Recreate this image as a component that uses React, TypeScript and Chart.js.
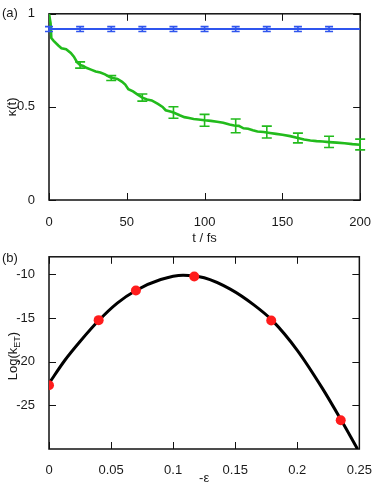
import React, { useEffect, useRef } from 'react';
import { Chart, registerables } from 'chart.js';

Chart.register(...registerables);

const FONT = "'Liberation Sans', Arial, Helvetica, sans-serif";
const TEXT = '#1a1a1a';
const GREEN = '#22bb1c';
const BLUE = '#2f55ee';
const RED = '#ff1c1c';

// ---------- Panel (a) ----------
const timeFs = [0, 0.5, 1, 1.5, 3, 6, 8, 11, 14, 16, 18, 20, 22, 24, 27, 30, 33, 36, 39, 41, 44, 47, 49, 51, 54, 57, 60, 63, 66, 70, 73, 75, 78, 80, 84, 87, 90, 93, 96, 100, 104, 108, 112, 116, 119, 122, 125, 128, 131, 134, 138, 142, 146, 150, 155, 160, 164, 168, 172, 176, 180, 185, 190, 195, 200];
const kappaGreen = [1.0, 1.0, 0.95, 0.87, 0.855, 0.83, 0.815, 0.81, 0.79, 0.77, 0.74, 0.725, 0.72, 0.71, 0.70, 0.69, 0.685, 0.675, 0.66, 0.655, 0.65, 0.635, 0.62, 0.595, 0.583, 0.566, 0.55, 0.54, 0.535, 0.516, 0.50, 0.482, 0.475, 0.47, 0.455, 0.445, 0.44, 0.435, 0.432, 0.428, 0.425, 0.42, 0.415, 0.405, 0.40, 0.398, 0.385, 0.383, 0.375, 0.368, 0.365, 0.36, 0.355, 0.35, 0.343, 0.333, 0.325, 0.32, 0.316, 0.314, 0.311, 0.308, 0.305, 0.30, 0.297];
const blueTime = [0, 200];
const kappaBlue = [0.918, 0.918];
const greenErrTime = [20, 40, 60, 80, 100, 120, 140, 160, 180, 200];
const greenErrMean = [0.725, 0.655, 0.55, 0.47, 0.428, 0.398, 0.365, 0.333, 0.312, 0.298];
const greenErrHalf = [0.017, 0.013, 0.019, 0.031, 0.032, 0.037, 0.032, 0.026, 0.03, 0.029];
const blueErrTime = [0, 20, 40, 60, 80, 100, 120, 140, 160, 180];
const blueErrMean = [0.918, 0.918, 0.918, 0.918, 0.918, 0.918, 0.918, 0.918, 0.918, 0.918];
const blueErrHalf = [0.013, 0.013, 0.013, 0.013, 0.013, 0.013, 0.013, 0.013, 0.013, 0.013];
const timeTicks = [0, 50, 100, 150, 200];
const kappaTicks = [0, 0.5, 1];

// ---------- Panel (b) ----------
const epsCurve = [0, 0.0125, 0.025, 0.04, 0.055, 0.07, 0.09, 0.108, 0.125, 0.146, 0.165, 0.18, 0.2, 0.22, 0.235, 0.2485];
const logkCurve = [-22.5, -19.9, -17.7, -15.3, -13.3, -11.85, -10.6, -10.1, -10.4, -11.7, -13.5, -15.3, -18.7, -23.0, -26.6, -30.0];
const epsPoints = [0, 0.04, 0.07, 0.117, 0.179, 0.235];
const logkPoints = [-22.7, -15.25, -11.85, -10.25, -15.3, -26.7];
const epsTicks = [0, 0.05, 0.1, 0.15, 0.2, 0.25];
const logkTicks = [-25, -20, -15, -10];

const zip = (xs: number[], ys: number[]) => xs.map((x, i) => ({ x, y: ys[i] }));
const plainLabel = (v: any) => String(Math.round(Number(v) * 1000) / 1000);

const frameTicks = {
  id: 'frameTicks',
  beforeDatasetsDraw(chart: any) {
    const { ctx, chartArea: a, scales } = chart;
    const x = scales.x;
    const y = scales.y;
    ctx.save();
    ctx.strokeStyle = '#111';
    ctx.lineWidth = 1;
    ctx.beginPath();
    x.ticks.forEach((t: any) => {
      const p = Math.round(x.getPixelForValue(t.value)) + 0.5;
      ctx.moveTo(p, a.bottom);
      ctx.lineTo(p, a.bottom - 7);
      ctx.moveTo(p, a.top);
      ctx.lineTo(p, a.top + 7);
    });
    y.ticks.forEach((t: any) => {
      const p = Math.round(y.getPixelForValue(t.value)) + 0.5;
      ctx.moveTo(a.left, p);
      ctx.lineTo(a.left + 7, p);
      ctx.moveTo(a.right, p);
      ctx.lineTo(a.right - 7, p);
    });
    ctx.stroke();
    ctx.lineWidth = 1.5;
    ctx.strokeRect(a.left, a.top, a.right - a.left, a.bottom - a.top);
    ctx.restore();
  },
};

function makeErrorBars(sets: any[]) {
  return {
    id: 'errorBars',
    afterDatasetsDraw(chart: any) {
      const { ctx, scales } = chart;
      const x = scales.x;
      const y = scales.y;
      ctx.save();
      sets.forEach((s) => {
        ctx.strokeStyle = s.color;
        ctx.lineWidth = s.width;
        s.xs.forEach((xv: number, i: number) => {
          const px = x.getPixelForValue(xv);
          const top = y.getPixelForValue(s.ys[i] + s.errs[i]);
          const bot = y.getPixelForValue(s.ys[i] - s.errs[i]);
          ctx.beginPath();
          ctx.moveTo(px, top);
          ctx.lineTo(px, bot);
          ctx.moveTo(px - s.cap, top);
          ctx.lineTo(px + s.cap, top);
          ctx.moveTo(px - s.cap, bot);
          ctx.lineTo(px + s.cap, bot);
          ctx.stroke();
        });
      });
      ctx.restore();
    },
  };
}

const font = { family: FONT, size: 13 };

export default function App() {
  const topRef = useRef<HTMLCanvasElement>(null);
  const botRef = useRef<HTMLCanvasElement>(null);

  useEffect(() => {
    const chartA = new Chart(topRef.current as HTMLCanvasElement, {
      type: 'line',
      data: {
        datasets: [
          {
            data: zip(blueTime, kappaBlue),
            borderColor: BLUE,
            borderWidth: 2,
            pointRadius: 0,
            tension: 0,
          },
          {
            data: zip(timeFs, kappaGreen),
            borderColor: GREEN,
            borderWidth: 2.6,
            pointRadius: 0,
            tension: 0,
          },
        ],
      },
      options: {
        animation: false,
        responsive: false,
        devicePixelRatio: 1,
        layout: { padding: { left: 0, right: 14, top: 5, bottom: 0 } },
        plugins: { legend: { display: false }, tooltip: { enabled: false } },
        scales: {
          x: {
            type: 'linear',
            min: 0,
            max: 200,
            grid: { display: false },
            border: { display: false },
            ticks: { font, color: TEXT, padding: 7, maxRotation: 0, callback: plainLabel },
            title: { display: true, text: 't / fs', font, color: TEXT, padding: { top: 0, bottom: 0 } },
            afterBuildTicks: (s: any) => { s.ticks = timeTicks.map((v) => ({ value: v })); },
            afterFit: (s: any) => { s.height = 46; },
          },
          y: {
            type: 'linear',
            min: 0,
            max: 1,
            grid: { display: false },
            border: { display: false },
            ticks: { font, color: TEXT, padding: 6, callback: plainLabel },
            title: { display: true, text: 'κ(t)', font, color: TEXT, padding: { top: 5, bottom: 0 } },
            afterBuildTicks: (s: any) => { s.ticks = kappaTicks.map((v) => ({ value: v })); },
            afterFit: (s: any) => { s.width = 49; },
          },
        },
      } as any,
      plugins: [
        frameTicks,
        makeErrorBars([
          { xs: blueErrTime, ys: blueErrMean, errs: blueErrHalf, color: BLUE, width: 1.6, cap: 4 },
          { xs: greenErrTime, ys: greenErrMean, errs: greenErrHalf, color: GREEN, width: 1.6, cap: 5 },
        ]),
      ],
    });

    const chartB = new Chart(botRef.current as HTMLCanvasElement, {
      type: 'line',
      data: {
        datasets: [
          {
            type: 'scatter',
            data: zip(epsPoints, logkPoints),
            backgroundColor: RED,
            borderWidth: 0,
            pointRadius: 5,
            order: 0,
          } as any,
          {
            data: zip(epsCurve, logkCurve),
            borderColor: '#000',
            borderWidth: 3,
            pointRadius: 0,
            cubicInterpolationMode: 'monotone',
            order: 1,
          },
        ],
      },
      options: {
        animation: false,
        responsive: false,
        devicePixelRatio: 1,
        layout: { padding: { left: 0, right: 15, top: 12, bottom: 0 } },
        plugins: { legend: { display: false }, tooltip: { enabled: false } },
        scales: {
          x: {
            type: 'linear',
            min: 0,
            max: 0.25,
            grid: { display: false },
            border: { display: false },
            ticks: { font, color: TEXT, padding: 6, maxRotation: 0, callback: plainLabel },
            title: { display: true, text: '-ε', font, color: TEXT, padding: { top: 0, bottom: 0 } },
            afterBuildTicks: (s: any) => { s.ticks = epsTicks.map((v) => ({ value: v })); },
            afterFit: (s: any) => { s.height = 37; },
          },
          y: {
            type: 'linear',
            min: -30,
            max: -8,
            grid: { display: false },
            border: { display: false },
            ticks: { font, color: TEXT, padding: 6, callback: plainLabel },
            afterBuildTicks: (s: any) => { s.ticks = logkTicks.map((v) => ({ value: v })); },
            afterFit: (s: any) => { s.width = 49; },
          },
        },
      } as any,
      plugins: [frameTicks],
    });

    return () => {
      chartA.destroy();
      chartB.destroy();
    };
  }, []);

  const labelStyle: React.CSSProperties = {
    position: 'absolute',
    left: 2,
    fontFamily: FONT,
    fontSize: 13,
    color: TEXT,
    lineHeight: '15px',
  };

  return (
    <div style={{ position: 'fixed', left: 0, top: 0, width: 378, height: 486, background: '#fff', overflow: 'hidden' }}>
      <canvas ref={topRef} width={378} height={246} style={{ position: 'absolute', left: 0, top: 0, width: 378, height: 246 }} />
      <canvas ref={botRef} width={378} height={243} style={{ position: 'absolute', left: 0, top: 243, width: 378, height: 243 }} />
      <div style={{ ...labelStyle, top: 5 }}>(a)</div>
      <div style={{ ...labelStyle, top: 250 }}>(b)</div>
      <div
        style={{
          position: 'absolute',
          left: 12,
          top: 356,
          transform: 'translate(-50%, -50%) rotate(-90deg)',
          whiteSpace: 'nowrap',
          fontFamily: FONT,
          fontSize: 13,
          color: TEXT,
          lineHeight: '15px',
        }}
      >
        Log(k<sub style={{ fontSize: 9, verticalAlign: 'sub', lineHeight: 0 }}>ET</sub>)
      </div>
    </div>
  );
}
